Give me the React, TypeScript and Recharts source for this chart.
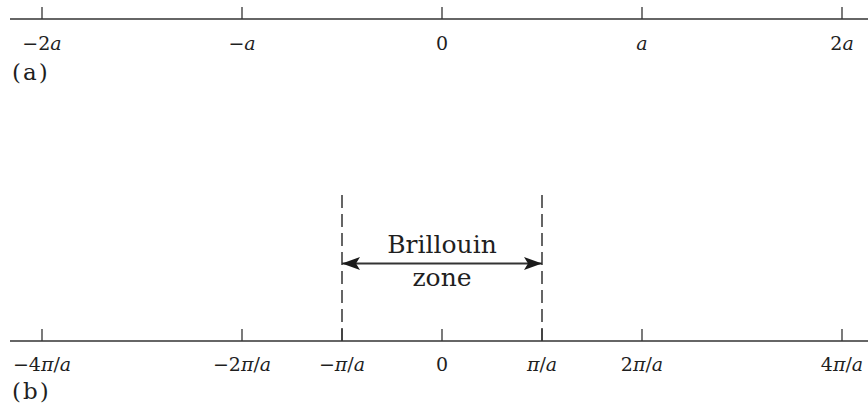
import React from 'react';
import { LineChart, Line, XAxis, YAxis, ReferenceLine, ReferenceArea } from 'recharts';

// (a) real-space lattice, positions in units of a
const latticeTicks = [-2, -1, 0, 1, 2];
const latticeLabels = ['−2a', '−a', '0', 'a', '2a'];

// (b) reciprocal lattice, positions in units of π/a
const reciprocalTicks = [-4, -2, -1, 0, 1, 2, 4];
const reciprocalLabels = ['−4π/a', '−2π/a', '−π/a', '0', 'π/a', '2π/a', '4π/a'];

// first Brillouin zone edges, units of π/a
const zoneEdges = [-1, 1];
const zoneText = ['Brillouin', 'zone'];

const FONT = '"DejaVu Serif", serif';
const INK = '#333';
const TEXT = '#1f1f1f';
const TICK_LEN = 12;
const ARROW_LEVEL = 0.52;

// italic for the variables, upright for digits / signs
function renderMath(label: string) {
  return label.split('').map((ch, i) => (
    <tspan key={i} fontStyle={ch === 'a' || ch === 'π' ? 'italic' : 'normal'}>
      {ch}
    </tspan>
  ));
}

const makeTick = (ticks: number[], labels: string[], dy: number) => (props: any) => {
  const { x, y, payload } = props;
  const label = labels[ticks.indexOf(payload.value)] ?? String(payload.value);
  return (
    <g>
      <line x1={x} x2={x} y1={y} y2={y - TICK_LEN} stroke={INK} strokeWidth={1.3} />
      <text x={x} y={y + dy} textAnchor="middle" fontFamily={FONT} fontSize={19} fill={TEXT}>
        {renderMath(label)}
      </text>
    </g>
  );
};

const ArrowHead = (props: any) => {
  const { cx, cy, index } = props;
  const dir = index === 0 ? -1 : 1;
  const pts = [
    [cx, cy],
    [cx - dir * 18, cy - 6.5],
    [cx - dir * 14, cy],
    [cx - dir * 18, cy + 6.5],
  ]
    .map((p) => p.join(','))
    .join(' ');
  return <polygon key={`ah-${index}`} points={pts} fill="#1a1a1a" />;
};

const ZoneLabel = (props: any) => {
  const vb = props.viewBox;
  if (!vb) return null;
  const cx = vb.x + vb.width / 2;
  const ay = vb.y + vb.height * (1 - ARROW_LEVEL);
  return (
    <g fontFamily={FONT} fontSize={25} fill={TEXT} textAnchor="middle">
      <text x={cx} y={ay - 11}>{zoneText[0]}</text>
      <text x={cx} y={ay + 22}>{zoneText[1]}</text>
    </g>
  );
};

const panelLabel: React.CSSProperties = {
  position: 'absolute',
  left: 12,
  fontFamily: FONT,
  fontSize: 23,
  letterSpacing: 2,
  lineHeight: '23px',
  color: TEXT,
};

export default function App() {
  const latticePoints = latticeTicks.map((x) => ({ x, y: 0 }));
  const reciprocalPoints = reciprocalTicks.map((x) => ({ x, y: 0 }));
  const arrowData = zoneEdges.map((x) => ({ x, y: ARROW_LEVEL }));

  return (
    <div style={{ position: 'absolute', left: 0, top: 0, width: 868, height: 406, background: '#fff' }}>
      {/* (a) direct lattice */}
      <div style={{ position: 'absolute', left: 0, top: 0 }}>
        <LineChart width={868} height={100} margin={{ top: 0, right: 0, bottom: 0, left: 10 }}>
          <XAxis
            dataKey="x"
            type="number"
            domain={[-2.16, 2.13]}
            allowDataOverflow
            ticks={latticeTicks}
            interval={0}
            height={81}
            tickSize={0}
            tickMargin={0}
            tickLine={false}
            axisLine={{ stroke: INK, strokeWidth: 1.5 }}
            tick={makeTick(latticeTicks, latticeLabels, 31)}
          />
          <YAxis hide domain={[0, 1]} />
          <Line data={latticePoints} dataKey="y" stroke="none" dot={false} isAnimationActive={false} />
        </LineChart>
      </div>
      <div style={{ ...panelLabel, top: 61 }}>(a)</div>

      {/* (b) reciprocal lattice */}
      <div style={{ position: 'absolute', left: 0, top: 180 }}>
        <LineChart width={868} height={226} margin={{ top: 12, right: 0, bottom: 0, left: 10 }}>
          <XAxis
            dataKey="x"
            type="number"
            domain={[-4.32, 4.26]}
            allowDataOverflow
            ticks={reciprocalTicks}
            interval={0}
            height={65}
            tickSize={0}
            tickMargin={0}
            tickLine={false}
            axisLine={{ stroke: INK, strokeWidth: 1.5 }}
            tick={makeTick(reciprocalTicks, reciprocalLabels, 30)}
          />
          <YAxis hide domain={[0, 1]} />
          {zoneEdges.map((e) => (
            <ReferenceLine key={e} x={e} stroke={INK} strokeWidth={1.5} strokeDasharray="13 6" />
          ))}
          <ReferenceArea
            x1={zoneEdges[0]}
            x2={zoneEdges[1]}
            y1={0}
            y2={1}
            fill="none"
            stroke="none"
            label={<ZoneLabel />}
          />
          <Line data={reciprocalPoints} dataKey="y" stroke="none" dot={false} isAnimationActive={false} />
          <Line
            data={arrowData}
            dataKey="y"
            stroke={INK}
            strokeWidth={2}
            dot={<ArrowHead />}
            isAnimationActive={false}
          />
        </LineChart>
      </div>
      <div style={{ ...panelLabel, top: 380 }}>(b)</div>
    </div>
  );
}
